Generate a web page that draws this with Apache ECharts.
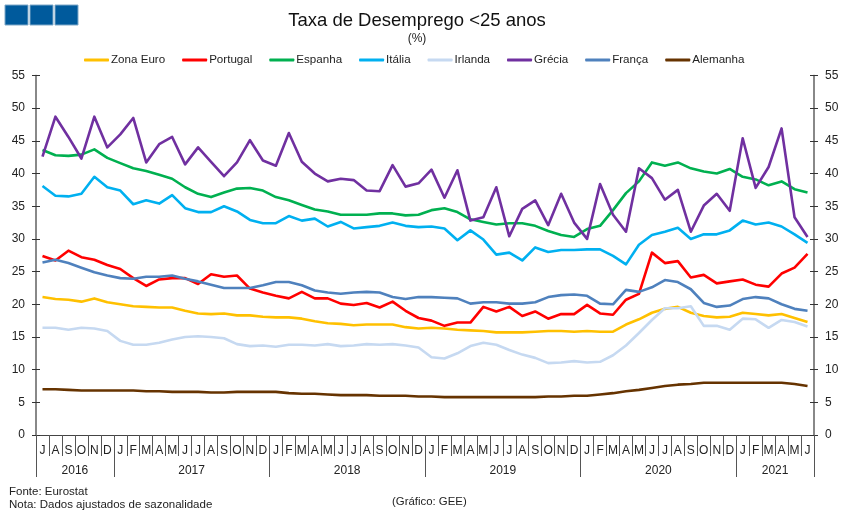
<!DOCTYPE html>
<html>
<head>
<meta charset="utf-8">
<title>Taxa de Desemprego &lt;25 anos</title>
<script src="https://cdn.jsdelivr.net/npm/echarts@6/dist/echarts.min.js"></script>
<style>
  html, body { margin: 0; padding: 0; background: #fff; }
  #chart { width: 851px; height: 518px; }
</style>
</head>
<body>
<div id="chart"></div>
<script>
const months = [
  'J','A','S','O','N','D',
  'J','F','M','A','M','J','J','A','S','O','N','D',
  'J','F','M','A','M','J','J','A','S','O','N','D',
  'J','F','M','A','M','J','J','A','S','O','N','D',
  'J','F','M','A','M','J','J','A','S','O','N','D',
  'J','F','M','A','M','J'
];
const yearLabels = ['2016', '2017', '2018', '2019', '2020', '2021'];
const yearMonths = [6, 12, 12, 12, 12, 6];

const zonaEuro = [
  21.1,20.8,20.7,20.4,20.9,20.3,
  20.0,19.7,19.6,19.5,19.5,19.0,18.6,18.5,18.6,18.3,18.3,18.1,
  18.0,18.0,17.8,17.4,17.1,17.0,16.8,16.9,16.9,16.9,16.5,16.3,
  16.4,16.3,16.1,16.0,15.9,15.7,15.7,15.7,15.8,15.9,15.9,15.8,
  15.9,15.8,15.8,16.9,17.7,18.7,19.3,19.6,18.7,18.2,18.0,18.1,
  18.7,18.5,18.3,18.5,17.9,17.3
];
const portugal = [
  27.4,26.7,28.2,27.2,26.8,26.0,
  25.4,24.0,22.8,23.8,24.0,24.0,23.1,24.6,24.2,24.4,22.4,21.8,
  21.3,20.9,21.9,20.9,20.9,20.1,19.9,20.2,19.5,20.4,19.0,17.9,
  17.5,16.7,17.2,17.2,19.6,18.9,19.6,18.2,18.9,17.8,18.5,18.5,
  19.9,18.6,18.4,20.7,21.6,27.9,26.3,26.6,24.1,24.5,23.2,23.5,
  23.8,23.0,22.7,24.7,25.6,27.7
];
const espanha = [
  43.6,42.8,42.7,42.9,43.7,42.4,
  41.6,40.8,40.4,39.8,39.2,37.9,36.9,36.4,37.1,37.7,37.8,37.4,
  36.4,35.9,35.2,34.5,34.2,33.7,33.7,33.7,33.9,33.9,33.6,33.7,
  34.4,34.7,34.1,33.0,32.6,32.2,32.4,32.4,32.0,31.2,30.6,30.3,
  31.5,32.0,34.4,37.0,38.8,41.7,41.2,41.7,40.8,40.3,40.0,40.7,
  39.5,39.1,38.2,38.8,37.6,37.1
];
const italia = [
  38.1,36.6,36.5,36.9,39.5,37.9,
  37.4,35.3,35.9,35.4,36.7,34.7,34.1,34.1,35.0,34.2,32.9,32.4,
  32.4,33.5,32.8,33.1,31.9,32.6,31.6,31.8,32.0,32.5,32.0,31.8,
  31.9,31.6,29.8,31.3,29.9,27.6,27.9,26.7,28.7,28.0,28.3,28.3,
  28.4,28.4,27.4,26.1,29.1,30.6,31.1,31.7,30.0,30.7,30.7,31.3,
  32.8,32.2,32.5,31.9,30.7,29.4
];
const irlanda = [
  16.4,16.4,16.1,16.4,16.3,15.9,
  14.4,13.8,13.8,14.1,14.6,15.0,15.1,15.0,14.8,13.9,13.6,13.7,
  13.5,13.8,13.8,13.7,13.9,13.6,13.7,13.9,13.8,13.9,13.7,13.4,
  11.9,11.7,12.5,13.6,14.1,13.8,13.0,12.3,11.8,11.0,11.1,11.3,
  11.1,11.2,12.2,13.7,15.6,17.6,19.4,19.4,19.7,16.7,16.7,16.1,
  17.8,17.7,16.4,17.6,17.3,16.6
];
const grecia = [
  42.6,48.7,45.6,42.3,48.7,44.0,
  46.0,48.5,41.7,44.5,45.6,41.4,44.0,41.8,39.6,41.7,45.1,42.0,
  41.2,46.2,41.8,40.0,38.8,39.2,39.0,37.4,37.3,41.3,38.0,38.5,
  40.6,36.3,40.5,32.8,33.3,37.9,30.4,34.6,35.9,32.1,36.9,32.5,
  30.0,38.4,33.7,31.1,40.8,39.3,36.0,37.5,31.1,35.1,36.9,34.3,
  45.4,37.8,41.0,46.9,33.3,30.3
];
const franca = [
  26.4,26.8,26.3,25.6,24.9,24.4,
  24.0,23.9,24.2,24.2,24.4,23.9,23.5,23.0,22.5,22.5,22.5,22.9,
  23.4,23.4,22.9,22.1,21.8,21.6,21.8,21.9,21.8,21.1,20.8,21.1,
  21.1,21.0,20.9,20.1,20.3,20.3,20.1,20.1,20.3,21.1,21.4,21.5,
  21.3,20.1,20.0,22.2,21.9,22.6,23.7,23.4,22.3,20.2,19.6,19.8,
  20.8,21.1,20.9,20.0,19.3,19.0
];
const alemanha = [
  7.0,7.0,6.9,6.8,6.8,6.8,
  6.8,6.8,6.7,6.7,6.6,6.6,6.6,6.5,6.5,6.6,6.6,6.6,
  6.6,6.4,6.3,6.3,6.2,6.1,6.1,6.1,6.0,6.0,6.0,5.9,
  5.9,5.8,5.8,5.8,5.8,5.8,5.8,5.8,5.8,5.9,5.9,6.0,
  6.0,6.2,6.4,6.7,6.9,7.2,7.5,7.7,7.8,8.0,8.0,8.0,
  8.0,8.0,8.0,8.0,7.8,7.5
];

const names = ['Zona Euro', 'Portugal', 'Espanha', 'Itália', 'Irlanda', 'Grécia', 'França', 'Alemanha'];
const values = [zonaEuro, portugal, espanha, italia, irlanda, grecia, franca, alemanha];
const colors = ['#FFC000', '#FF0000', '#00B050', '#00B0F0', '#C6D9F1', '#7030A0', '#4F81BD', '#663300'];

const font = '"Liberation Sans", Arial, sans-serif';
const axisGrey = '#808080';
const textColor = '#222';

// year band positions counted in months: ticks on the edges, labels in the middle
let yearEdges = [0];
let yearMids = [];
yearMonths.forEach((n, i) => {
  yearMids.push(yearEdges[i] + n / 2);
  yearEdges.push(yearEdges[i] + n);
});

function yAxis(position, inside, labelled) {
  return {
    type: 'value',
    position: position,
    min: 0,
    max: 55,
    interval: 5,
    splitLine: { show: false },
    axisLine: { show: true, onZero: false, lineStyle: { color: axisGrey, width: 1.5 } },
    axisTick: { show: true, inside: inside, length: 4, lineStyle: { color: '#333' } },
    axisLabel: { show: labelled, margin: 11, fontFamily: font, fontSize: 12, color: textColor }
  };
}

let instance = echarts.init(document.getElementById('chart'), null, { renderer: 'canvas' });
instance.setOption({
  animation: false,
  backgroundColor: '#fff',
  color: colors,
  title: [
    {
      text: 'Taxa de Desemprego <25 anos',
      left: 417,
      top: 11,
      padding: 0,
      textAlign: 'center',
      textStyle: { fontFamily: font, fontSize: 18.5, fontWeight: 'normal', color: '#111' }
    },
    {
      text: '(%)',
      left: 417,
      top: 33,
      padding: 0,
      textAlign: 'center',
      textStyle: { fontFamily: font, fontSize: 12, fontWeight: 'normal', color: textColor }
    }
  ],
  legend: {
    left: 84,
    top: 54,
    padding: 0,
    itemWidth: 25,
    itemHeight: 3,
    itemGap: 17,
    icon: 'roundRect',
    data: names,
    textStyle: { fontFamily: font, fontSize: 11.6, color: textColor, padding: [0, 0, 0, -3] }
  },
  grid: { left: 36, right: 37, top: 75.5, bottom: 83 },
  xAxis: [
    {
      type: 'category',
      data: months,
      axisLine: { onZero: false, lineStyle: { color: '#444' } },
      axisTick: { show: true, interval: 0, length: 21, lineStyle: { color: '#555' } },
      axisLabel: { interval: 0, margin: 10, fontFamily: font, fontSize: 12, color: textColor }
    },
    {
      type: 'value',
      position: 'bottom',
      min: 0,
      max: months.length,
      splitLine: { show: false },
      axisLine: { show: false },
      axisTick: { show: true, length: 42, customValues: yearEdges, lineStyle: { color: '#555' } },
      axisLabel: {
        margin: 30,
        fontFamily: font,
        fontSize: 12,
        color: textColor,
        customValues: yearMids,
        formatter: (v) => yearLabels[yearMids.indexOf(v)]
      }
    }
  ],
  yAxis: [
    yAxis('left', false, true),
    yAxis('right', false, true),
    yAxis('left', true, false),
    yAxis('right', true, false)
  ],
  series: names.map((name, i) => ({
    name: name,
    type: 'line',
    data: values[i],
    symbol: 'none',
    lineStyle: { width: 2.6, join: 'round' }
  })),
  graphic: [
    { type: 'rect', shape: { x: 5, y: 5, width: 23, height: 20 }, style: { fill: '#005A9C', stroke: '#7FA8C8', lineWidth: 1 } },
    { type: 'rect', shape: { x: 30, y: 5, width: 23, height: 20 }, style: { fill: '#005A9C', stroke: '#7FA8C8', lineWidth: 1 } },
    { type: 'rect', shape: { x: 55, y: 5, width: 23, height: 20 }, style: { fill: '#005A9C', stroke: '#7FA8C8', lineWidth: 1 } },
    { type: 'text', left: 9, top: 486, style: { text: 'Fonte: Eurostat', font: '11.5px ' + font, fill: textColor } },
    { type: 'text', left: 9, top: 499, style: { text: 'Nota: Dados ajustados de sazonalidade', font: '11.5px ' + font, fill: textColor } },
    { type: 'text', left: 392, top: 496, style: { text: '(Gráfico: GEE)', font: '11.4px ' + font, fill: textColor } }
  ]
});
</script>
</body>
</html>
